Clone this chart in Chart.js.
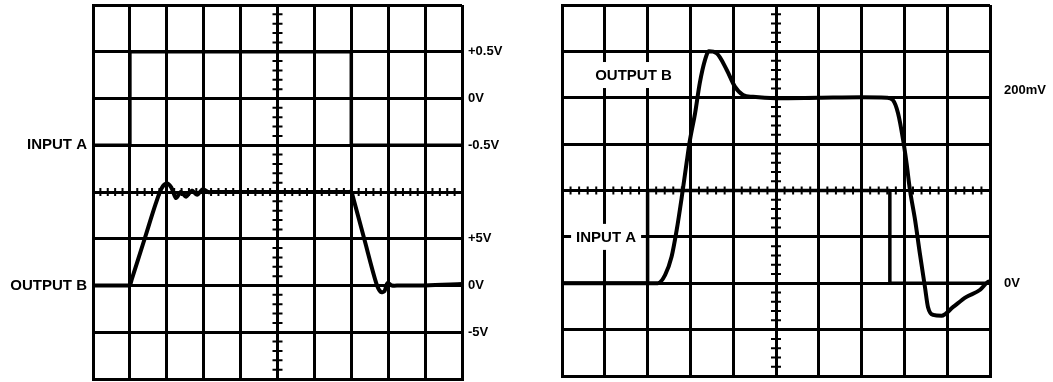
<!DOCTYPE html>
<html>
<head>
<meta charset="utf-8">
<script src="https://cdn.jsdelivr.net/npm/chart.js@4/dist/chart.umd.min.js"></script>
<style>
  html, body { margin: 0; padding: 0; background: #fff; overflow: hidden; }
  #wrap { position: relative; width: 1053px; height: 382px; }
  canvas { position: absolute; top: 0; }
  #left { left: 0; }
  #right { left: 540px; }
</style>
</head>
<body>
<div id="wrap">
  <canvas id="left" width="540" height="382"></canvas>
  <canvas id="right" width="513" height="382"></canvas>
</div>
<script>
// Oscilloscope graticule: 10 horizontal x 8 vertical divisions.
// Times and levels below are in divisions (y = 0 is the centre line).

// ---- Left screen ----
const leftInputATime = [0, 1, 1, 7, 7, 10];
const leftInputA     = [1, 1, 3, 3, 1, 1];

const leftOutputBTime = [0, 0.95, 1.0, 1.05, 1.4, 1.7, 1.86, 2.0, 2.12, 2.25, 2.38, 2.52, 2.68, 2.82, 2.98, 3.12, 3.3, 5.0, 6.9, 7.0, 7.05, 7.35, 7.68, 7.8, 7.9, 7.98, 8.1, 8.3, 9.0, 10];
const leftOutputB     = [-2, -2, -2, -1.87, -1.0, -0.25, 0.08, 0.18, 0.1, -0.13, 0, -0.1, 0.03, -0.06, 0.06, 0, 0, 0, 0, 0, -0.12, -1.0, -1.96, -2.14, -2.12, -1.95, -2.0, -2.0, -2.0, -1.97];

const leftNameTicks  = [1, -2];
const leftNames      = ['INPUT A', 'OUTPUT B'];
const leftScaleTicks  = [3, 2, 1, -1, -2, -3];
const leftScaleLabels = ['+0.5V', '0V', '-0.5V', '+5V', '0V', '-5V'];

// ---- Right screen ----
const rightInputATime = [0, 2, 2, 7.66, 7.66, 10];
const rightInputA     = [-2, -2, 0, 0, -2, -2];

const rightOutputBTime = [0, 2.24, 2.41, 2.56, 2.68, 2.80, 2.91, 2.99, 3.11, 3.22, 3.34, 3.43, 3.61, 3.85, 4.04, 4.23, 4.46, 5.0, 6.0, 7.0, 7.59, 7.73, 7.85, 7.97, 8.05, 8.13, 8.25, 8.36, 8.48, 8.55, 8.67, 8.87, 9.14, 9.44, 9.77, 9.95, 10];
const rightOutputB     = [-2, -2, -1.82, -1.43, -0.85, -0.13, 0.59, 1.09, 1.67, 2.32, 2.81, 3.0, 2.96, 2.6, 2.24, 2.06, 2.02, 1.99, 2.0, 2.01, 2.0, 1.95, 1.67, 1.09, 0.59, 0.01, -0.64, -1.35, -2.08, -2.51, -2.68, -2.7, -2.51, -2.30, -2.14, -1.97, -1.96];

const rightScaleTicks  = [2.15, -2];
const rightScaleLabels = ['200mV', '0V'];

const rightTraceNames  = ['OUTPUT B', 'INPUT A'];
const rightTraceNameX  = [1.67, 1.03];
const rightTraceNameY  = [2.49, -1.0];

const FONT_FAMILY = "'Liberation Sans', Arial, sans-serif";

function points(xs, ys) {
  return xs.map((x, i) => ({ x, y: ys[i] }));
}

function labelFor(value, ticks, labels) {
  const i = ticks.findIndex(t => Math.abs(t - value) < 1e-6);
  return i < 0 ? '' : labels[i];
}

// Minor graduations along the centre cross (5 per division).
const centreGraduations = {
  id: 'centreGraduations',
  beforeDatasetsDraw(chart) {
    const { ctx, scales: { x, y } } = chart;
    const cx = x.getPixelForValue(5);
    const cy = y.getPixelForValue(0);
    ctx.save();
    ctx.strokeStyle = '#000';
    ctx.lineWidth = 2;
    ctx.beginPath();
    for (let i = 0; i <= 40; i++) {
      if (i % 5 === 0) continue;
      const py = y.getPixelForValue(-4 + i / 5);
      ctx.moveTo(cx - 5, py);
      ctx.lineTo(cx + 5, py);
    }
    for (let i = 0; i <= 50; i++) {
      if (i % 5 === 0) continue;
      const px = x.getPixelForValue(i / 5);
      ctx.moveTo(px, cy - 4);
      ctx.lineTo(px, cy + 4);
    }
    ctx.stroke();
    ctx.restore();
  }
};

// Trace names written on the screen, on a white patch over the graticule.
const traceNames = {
  id: 'traceNames',
  beforeDatasetsDraw(chart, args, opts) {
    if (!opts.names) return;
    const { ctx, scales: { x, y } } = chart;
    ctx.save();
    ctx.font = 'bold 15px ' + FONT_FAMILY;
    ctx.textAlign = 'center';
    ctx.textBaseline = 'middle';
    opts.names.forEach((name, i) => {
      const px = x.getPixelForValue(opts.xs[i]);
      const py = y.getPixelForValue(opts.ys[i]);
      const w = ctx.measureText(name).width;
      ctx.fillStyle = '#fff';
      ctx.fillRect(px - w / 2 - 5, py - 13, w + 10, 26);
      ctx.fillStyle = '#000';
      ctx.fillText(name, px, py + 1);
    });
    ctx.restore();
  }
};

// Keep the plot area exactly where the axis sizes put it.
function noLabelPadding(s) {
  s.paddingTop = 0;
  s.paddingBottom = 0;
  s.paddingLeft = 0;
  s.paddingRight = 0;
}

function screen(canvas, datasets, o) {
  return new Chart(canvas, {
    type: 'line',
    data: { datasets },
    options: {
      responsive: false,
      animation: false,
      events: [],
      layout: { padding: { top: o.top, bottom: 0, left: 0, right: 0 }, autoPadding: false },
      plugins: {
        legend: { display: false },
        tooltip: { enabled: false },
        traceNames: o.traceNames || {}
      },
      elements: { point: { radius: 0 } },
      scales: {
        x: {
          type: 'linear', min: 0, max: 10,
          ticks: { display: false, stepSize: 1 },
          grid: { color: '#000', lineWidth: 3, drawTicks: false },
          border: { color: '#000', width: 3 },
          afterFit(s) { s.height = o.bottom; noLabelPadding(s); }
        },
        y: {
          type: 'linear', position: 'left', min: -4, max: 4,
          ticks: {
            stepSize: 1, padding: 6, color: '#000',
            font: { family: FONT_FAMILY, size: 15, weight: 'bold' },
            callback: v => labelFor(v, o.nameTicks, o.names)
          },
          grid: { color: '#000', lineWidth: 3, drawTicks: false },
          border: { color: '#000', width: 3 },
          afterFit(s) { s.width = o.leftWidth; noLabelPadding(s); }
        },
        y2: {
          type: 'linear', position: 'right', min: -4, max: 4,
          grid: { display: false, drawTicks: false },
          border: { display: false },
          ticks: {
            padding: o.scalePad, color: '#000',
            font: { family: FONT_FAMILY, size: 13, weight: 'bold' },
            callback: v => labelFor(v, o.scaleTicks, o.scaleLabels)
          },
          afterBuildTicks(s) { s.ticks = o.scaleTicks.map(v => ({ value: v })); },
          afterFit(s) { s.width = o.rightWidth; noLabelPadding(s); }
        }
      }
    },
    plugins: [centreGraduations, traceNames]
  });
}

function trace(xs, ys, mode, width) {
  return {
    data: points(xs, ys),
    borderColor: '#000',
    borderWidth: width,
    fill: false,
    tension: mode === 'curve' ? 0.3 : 0,
    cubicInterpolationMode: mode === 'monotone' ? 'monotone' : 'default',
    borderCapStyle: 'round',
    borderJoinStyle: 'round'
  };
}

screen(document.getElementById('left'), [
  trace(leftInputATime, leftInputA, 'step', 3.5),
  trace(leftOutputBTime, leftOutputB, 'curve', 4)
], {
  top: 5, bottom: 3, leftWidth: 93, rightWidth: 78, scalePad: 6,
  nameTicks: leftNameTicks, names: leftNames,
  scaleTicks: leftScaleTicks, scaleLabels: leftScaleLabels
});

screen(document.getElementById('right'), [
  trace(rightInputATime, rightInputA, 'step', 3.5),
  trace(rightOutputBTime, rightOutputB, 'monotone', 4)
], {
  top: 5, bottom: 6, leftWidth: 22, rightWidth: 63, scalePad: 14,
  nameTicks: [], names: [],
  scaleTicks: rightScaleTicks, scaleLabels: rightScaleLabels,
  traceNames: { names: rightTraceNames, xs: rightTraceNameX, ys: rightTraceNameY }
});
</script>
</body>
</html>
